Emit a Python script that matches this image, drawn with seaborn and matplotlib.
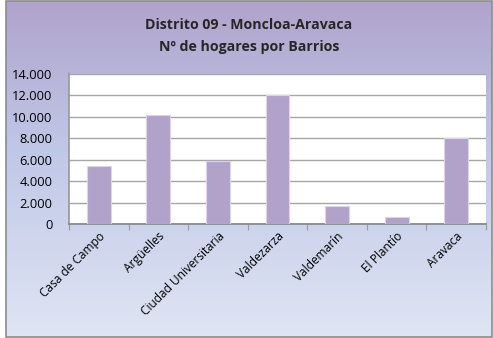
import numpy as np
import pandas as pd
import matplotlib
matplotlib.use("Agg")
import matplotlib.pyplot as plt
from matplotlib.colors import LinearSegmentedColormap
from matplotlib.patches import Rectangle
from matplotlib.ticker import FuncFormatter, FixedLocator
import seaborn as sns

barrios = ["Casa de Campo", "Argüelles", "Ciudad Universitaria", "Valdezarza",
           "Valdemarín", "El Plantío", "Aravaca"]
hogares = [5400, 10200, 5850, 12000, 1700, 700, 8050]
title_lines = ["Distrito 09 - Moncloa-Aravaca", "Nº de hogares por Barrios"]

sns.set_theme(style="white")
plt.rcParams["font.family"] = ["Open Sans", "DejaVu Sans"]

W, H = 493, 338
fig = plt.figure(figsize=(W / 100, H / 100), dpi=100, facecolor="white")

# gradient background of the chart frame
x0, y0, x1, y1 = 6, 1, 492, 337
bg = fig.add_axes([x0 / W, 1 - y1 / H, (x1 - x0) / W, (y1 - y0) / H], zorder=0)
cmap = LinearSegmentedColormap.from_list(
    "frame", [(0.0, "#B0A3CB"), (0.45, "#C0C8E8"), (1.0, "#DFE5F3")])
grad = np.linspace(0, 1, 256).reshape(-1, 1)
bg.imshow(grad, aspect="auto", cmap=cmap, extent=[0, 1, 1, 0])
bg.set_xlim(0, 1)
bg.set_ylim(1, 0)
bg.axis("off")
fig.patches.append(Rectangle((x0 / W, 1 - y1 / H), (x1 - x0) / W, (y1 - y0) / H,
                             transform=fig.transFigure, fill=False,
                             edgecolor="#8C8C8C", linewidth=1.2, zorder=5))

# plot area
pl, pr, pt, pb = 69, 486, 74, 224
ax = fig.add_axes([pl / W, 1 - pb / H, (pr - pl) / W, (pb - pt) / H], zorder=1)
ax.set_facecolor("white")

df = pd.DataFrame({"barrio": barrios, "hogares": hogares})
sns.barplot(data=df, x="barrio", y="hogares", color="#B1A2C9", saturation=1,
            width=0.4, edgecolor="#DCD4EA", linewidth=0.8, ax=ax, zorder=3)

ax.set_xlim(-0.5, len(barrios) - 0.5)
ax.set_ylim(0, 14000)
ax.yaxis.set_major_locator(FixedLocator(np.arange(0, 14001, 2000)))
ax.yaxis.set_major_formatter(FuncFormatter(lambda v, p: f"{int(v):,}".replace(",", ".")))
ax.grid(axis="y", color="#A6A6A6", linewidth=1.0, zorder=0)
ax.set_axisbelow(True)
ax.set_xlabel("")
ax.set_ylabel("")

for side in ["top", "right"]:
    ax.spines[side].set_visible(False)
ax.spines["left"].set_color("#9A9A9A")
ax.spines["bottom"].set_color("#8A8A8A")
ax.spines["bottom"].set_linewidth(1.3)

ax.tick_params(axis="y", length=3, width=0.8, color="#8A8A8A", labelsize=9.3,
               pad=9, labelcolor="black")
ax.tick_params(axis="x", which="major", length=0, labelsize=8.6, pad=4,
               labelcolor="black")
ax.set_xticks(range(len(barrios)))
ax.set_xticklabels(barrios, rotation=45, ha="right", rotation_mode="anchor")
ax.set_xticks(np.arange(-0.5, len(barrios), 1), minor=True)
ax.tick_params(axis="x", which="minor", length=4, width=0.8, color="#9A9A9A",
               bottom=True)

fig.text(0.5 * (x0 + x1) / W, 1 - 25 / H, title_lines[0], ha="center", va="center",
         fontsize=10.2, fontweight="bold", zorder=6)
fig.text(0.5 * (x0 + x1) / W, 1 - 47 / H, title_lines[1], ha="center", va="center",
         fontsize=10.2, fontweight="bold", zorder=6)

fig.savefig("out.png", dpi=100, facecolor="white")
